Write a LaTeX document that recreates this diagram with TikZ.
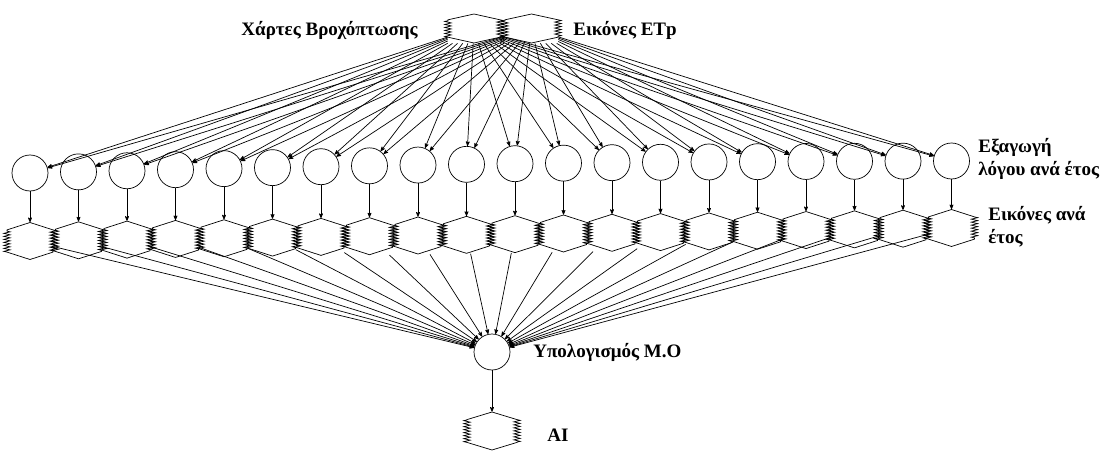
\documentclass[tikz,border=0pt]{standalone}
\usepackage{fontspec}
\setmainfont{Liberation Serif}
\usetikzlibrary{arrows,decorations.pathmorphing}
\tikzset{>=stealth'}
\tikzset{decoration={zigzag,segment length=3pt,amplitude=3.2pt}}

% hexagon store: name, centre, half width, half height
\newcommand{\dbhex}[4]{%
  \node[inner sep=0pt,minimum width=2*#3,minimum height=2*#4] (#1) at #2 {};
  \draw ([yshift=#4pt]#1.center) -- ++(#3,-0.4*#4)
    decorate{-- ++(0,-1.2*#4)} -- ++(-#3,-0.4*#4) -- ++(-#3,0.4*#4)
    decorate{-- ++(0,1.2*#4)} -- cycle;
}

\begin{document}
\begin{tikzpicture}[x=1pt,y=1pt,line width=0.7pt]

\tikzstyle{ratio}=[circle,draw,minimum size=36pt,inner sep=0pt]
\tikzstyle{lab}=[font=\fontsize{19}{23}\selectfont\bfseries,inner sep=0pt,align=left]

\useasboundingbox (0,0) rectangle (1114,451);

 \dbhex{rain}{(474,422.5)}{26}{14.5}
 \dbhex{etp}{(531.5,422.5)}{26.5}{14.5}
 \node[ratio] (mean) at (492,99) {};
 \dbhex{ai}{(492,20)}{25}{19}
 \draw[->] (mean) -- (ai);

 \foreach \i in {0,...,19} {
   \pgfmathsetmacro\cx{30+48.5*\i}
   \pgfmathsetmacro\cy{451-(173-12*\i/19-3*sin(180*\i/19))}
   \pgfmathsetmacro\hy{451-(241-13*\i/19)}
   \pgfmathtruncatemacro\n{\i+1}
   \node[ratio] (r\n) at (\cx,\cy) {};
   \dbhex{y\n}{(\cx,\hy)}{23}{18.5}
   \draw[->] (rain) -- (r\n);
   \draw[->] (etp) -- (r\n);
   \draw[->] (r\n) -- (y\n);
   \draw[->] (y\n) -- (mean);
 }

 \node[lab,anchor=east] (rainlab) at (418,421) {Χάρτες Βροχόπτωσης};
 \node[lab,anchor=west] (etplab) at (573,421) {Εικόνες ETp};
 \node[lab,anchor=west] (ratiolab) at (978,292.5) {Εξαγωγή\\λόγου ανά έτος};
 \node[lab,anchor=west] (yearlab) at (988,224.5) {Εικόνες ανά\\έτος};
 \node[lab,anchor=west] (meanlab) at (533,99) {Υπολογισμός Μ.Ο};
 \node[lab,anchor=west] (ailab) at (547,16) {AI};
\end{tikzpicture}
\end{document}
